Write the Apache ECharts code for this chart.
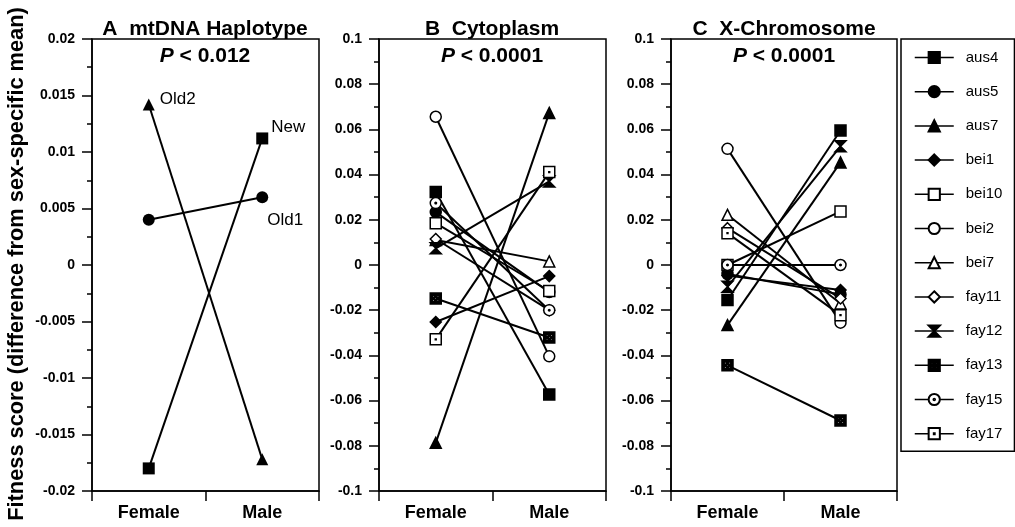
<!DOCTYPE html>
<html>
<head>
<meta charset="utf-8">
<script src="https://cdn.jsdelivr.net/npm/echarts@6/dist/echarts.min.js"></script>
<style>
  html, body { margin: 0; padding: 0; background: #fff; }
  #chart { width: 1015px; height: 527px; }
</style>
</head>
<body>
<div id="chart"></div>
<script>
// categories
var sexes = ['Female', 'Male'];

// panel A: mtDNA haplotypes
var haplotypes = ['New', 'Old1', 'Old2'];
var mtdnaFemale = [-0.018, 0.004, 0.0142];
var mtdnaMale = [0.0112, 0.006, -0.0172];

// panels B and C: strains
var strains = ['aus4', 'aus5', 'aus7', 'bei1', 'bei10', 'bei2', 'bei7', 'fay11', 'fay12', 'fay13', 'fay15', 'fay17'];
var cytoFemale = [0.0323, 0.0234, -0.0787, -0.0252, 0.0185, 0.0656, 0.0111, 0.0115, 0.0074, -0.0148, 0.0274, -0.0329];
var cytoMale = [-0.0573, -0.012, 0.0673, -0.0049, -0.0115, -0.0404, 0.0016, -0.02, 0.037, -0.0321, -0.02, 0.0411];
var xchrFemale = [-0.0155, -0.004, -0.0266, -0.0047, 0, 0.0514, 0.0222, 0.0163, -0.0096, -0.0444, 0, 0.0141];
var xchrMale = [0.0595, -0.013, 0.0454, -0.0111, 0.0237, -0.0255, -0.017, -0.0148, 0.0525, -0.0688, 0, -0.0222];

var fontFamily = "'Liberation Sans', Arial, Helvetica, sans-serif";

// marker shapes
var hourglass = 'path://M0,0 L10,0 L0,10 L10,10 Z';
var checker = 'path://M0,0 H10 V10 H0 Z M2,2 V4 H4 V2 Z M6,2 V4 H8 V2 Z M4,4 V6 H6 V4 Z M2,6 V8 H4 V6 Z M6,6 V8 H8 V6 Z';
var circleDot = 'path://M5,0 A5,5 0 1,1 5,10 A5,5 0 1,1 5,0 Z M5,4.3 A0.7,0.7 0 1,1 5,5.7 A0.7,0.7 0 1,1 5,4.3 Z';
var squareDot = 'path://M0,0 H10 V10 H0 Z M4.6,4.6 H5.4 V5.4 H4.6 Z';

var markers = {
    aus4: ['rect', '#000'],
    aus5: ['circle', '#000'],
    aus7: ['triangle', '#000'],
    bei1: ['diamond', '#000'],
    bei10: ['rect', '#fff'],
    bei2: ['circle', '#fff'],
    bei7: ['triangle', '#fff'],
    fay11: ['diamond', '#fff'],
    fay12: [hourglass, '#000'],
    fay13: [checker, '#000'],
    fay15: [circleDot, '#fff'],
    fay17: [squareDot, '#fff']
};
var mtdnaMarkers = {New: 'rect', Old1: 'circle', Old2: 'triangle'};

// point labels in panel A: [which point, offset, distance]
var mtdnaLabels = {
    New: [1, [0, -11], 3],
    Old1: [1, [0, 23], -1],
    Old2: [0, [0, -5], 5]
};

var chart = echarts.init(document.getElementById('chart'));

function xAxisFor(i) {
    return {
        type: 'category',
        gridIndex: i,
        data: sexes,
        boundaryGap: true,
        axisLine: {onZero: false, lineStyle: {color: '#000', width: 1.5}},
        axisTick: {show: true, length: 10, alignWithLabel: false, lineStyle: {color: '#000', width: 1.5}},
        axisLabel: {color: '#000', fontSize: 18, fontWeight: 'bold', fontFamily: fontFamily, margin: 13},
        splitLine: {show: false}
    };
}

function yAxisFor(i, lim, step) {
    return {
        type: 'value',
        gridIndex: i,
        min: -lim,
        max: lim,
        interval: step,
        axisLine: {show: true, onZero: false, lineStyle: {color: '#000', width: 1.5}},
        axisTick: {show: true, length: 10, lineStyle: {color: '#000', width: 1.5}},
        minorTick: {show: true, splitNumber: 2, length: 5, lineStyle: {color: '#000', width: 1.5}},
        axisLabel: {color: '#000', fontSize: 14, fontWeight: 'bold', fontFamily: fontFamily, margin: 17},
        splitLine: {show: false},
        minorSplitLine: {show: false}
    };
}

var series = [];

haplotypes.forEach(function (name, k) {
    var lab = mtdnaLabels[name];
    var pts = [mtdnaFemale[k], mtdnaMale[k]].map(function (v, j) {
        if (j !== lab[0]) return v;
        return {
            value: v,
            label: {
                show: true, position: 'right', formatter: name, offset: lab[1], distance: lab[2],
                color: '#000', fontSize: 17, fontFamily: fontFamily
            }
        };
    });
    series.push({
        name: name,
        type: 'line',
        xAxisIndex: 0,
        yAxisIndex: 0,
        data: pts,
        symbol: mtdnaMarkers[name],
        symbolSize: 12,
        itemStyle: {color: '#000'},
        lineStyle: {color: '#000', width: 2},
        emphasis: {disabled: true}
    });
});

function strainSeries(axis, female, male) {
    strains.forEach(function (name, k) {
        var m = markers[name];
        series.push({
            name: name,
            type: 'line',
            xAxisIndex: axis,
            yAxisIndex: axis,
            data: [female[k], male[k]],
            symbol: m[0],
            symbolSize: 11,
            itemStyle: {color: m[1], borderColor: '#000', borderWidth: 1.5},
            lineStyle: {color: '#000', width: 2},
            emphasis: {disabled: true}
        });
    });
}
strainSeries(1, cytoFemale, cytoMale);
strainSeries(2, xchrFemale, xchrMale);

function label(text, x, y, size, rich) {
    return {
        type: 'text', x: x, y: y, z: 100,
        style: {
            text: text, fill: '#000', fontSize: size, fontWeight: 'bold', fontFamily: fontFamily,
            align: 'center', verticalAlign: 'middle', textAlign: 'center', textVerticalAlign: 'middle',
            rich: rich
        }
    };
}
var italicP = {i: {fontStyle: 'italic', fontWeight: 'bold', fontSize: 21, fontFamily: fontFamily, fill: '#000'}};

var titles = [
    label('A  mtDNA Haplotype', 205, 29, 21),
    label('{i|P} < 0.012', 205, 56, 21, italicP),
    label('B  Cytoplasm', 492, 29, 21),
    label('{i|P} < 0.0001', 492, 56, 21, italicP),
    label('C  X-Chromosome', 784, 29, 21),
    label('{i|P} < 0.0001', 784, 56, 21, italicP)
];
var yName = label('Fitness score (difference from sex-specific mean)', 17, 264, 21.8);
yName.rotation = Math.PI / 2;
titles.push(yName);

var option = {
    animation: false,
    backgroundColor: '#fff',
    textStyle: {fontFamily: fontFamily},
    grid: [
        {left: 92, top: 39, width: 227, height: 452, show: true, borderColor: '#000', borderWidth: 1.5, backgroundColor: 'transparent'},
        {left: 379, top: 39, width: 227, height: 452, show: true, borderColor: '#000', borderWidth: 1.5, backgroundColor: 'transparent'},
        {left: 671, top: 39, width: 226, height: 452, show: true, borderColor: '#000', borderWidth: 1.5, backgroundColor: 'transparent'}
    ],
    xAxis: [xAxisFor(0), xAxisFor(1), xAxisFor(2)],
    yAxis: [yAxisFor(0, 0.02, 0.005), yAxisFor(1, 0.1, 0.02), yAxisFor(2, 0.1, 0.02)],
    legend: {
        data: strains,
        orient: 'vertical',
        left: 901,
        top: 39,
        itemWidth: 39,
        itemHeight: 14,
        itemGap: 19.2,
        padding: [11, 12, 10, 13],
        borderColor: '#000',
        borderWidth: 1.5,
        selectedMode: false,
        lineStyle: {width: 1.5},
        textStyle: {color: '#000', fontSize: 15, fontFamily: fontFamily, padding: [0, 0, 0, 7]}
    },
    graphic: titles,
    series: series
};
chart.setOption(option);
</script>
</body>
</html>
